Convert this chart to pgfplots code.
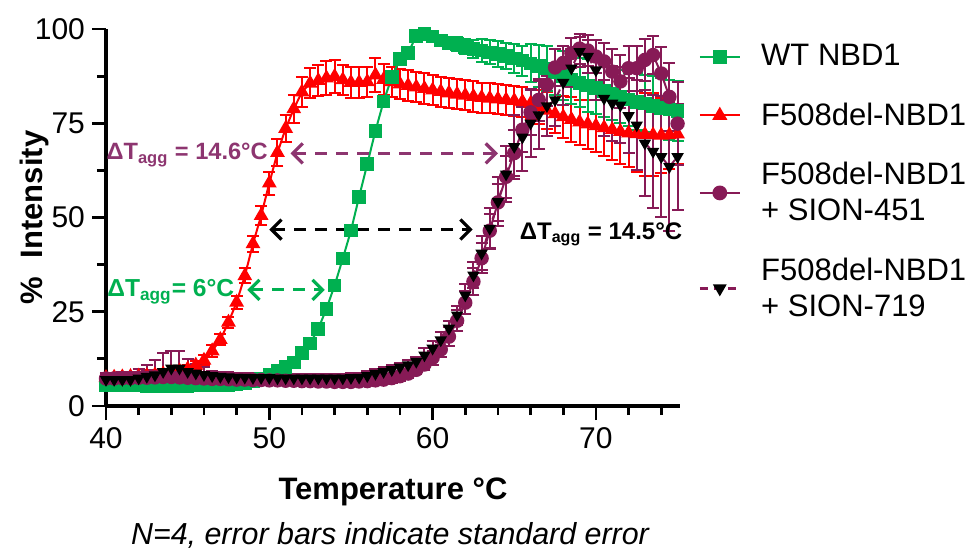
\documentclass[border=0pt]{standalone}
\usepackage{fontspec}
\setmainfont{Liberation Sans}
\usepackage{pgfplots}
\usepackage{pgfplotstable}
\pgfplotsset{compat=1.18}
\usetikzlibrary{arrows.meta}
\definecolor{wtgreen}{HTML}{00B050}
\definecolor{fdred}{HTML}{FF0000}
\definecolor{sionpurple}{HTML}{871A56}
\definecolor{notepurple}{HTML}{8D3570}

% T, WT NBD1, F508del-NBD1, +SION-451, +SION-719 (value and standard error)
\pgfplotstableread{
T    wt    wte  fd    fde  sa    sae  sb    sbe
40   5.6   0.6  7.5   1.0  7.3   1.5  7.0   1.5
40.5 5.5   0.6  7.6   1.0  7.3   1.5  7.0   1.5
41   5.5   0.6  7.7   1.0  7.4   1.5  7.0   1.5
41.5 5.4   0.6  7.8   1.0  7.4   1.5  7.0   1.5
42   5.4   0.6  7.9   1.0  7.5   1.5  7.4   2.5
42.5 5.3   0.6  8.0   1.0  7.5   2.0  7.8   3.0
43   5.3   0.6  8.2   1.0  7.6   2.0  8.2   4.0
43.5 5.3   0.6  8.5   1.0  7.7   2.0  9.1   5.0
44   5.3   0.6  8.8   1.0  7.7   2.0  10.0  4.5
44.5 5.3   0.6  9.3   1.2  7.6   2.0  10.0  4.5
45   5.3   0.6  9.8   1.2  7.5   2.0  9.1   3.5
45.5 5.4   0.6  10.8  1.2  7.4   1.5  8.7   2.5
46   5.4   0.6  12.1  1.3  7.3   1.5  8.3   2.0
46.5 5.5   0.6  14.6  1.5  7.2   1.0  8.0   1.2
47   5.5   0.6  17.6  1.5  7.2   1.0  7.8   1.2
47.5 5.6   0.6  22.2  1.5  7.1   1.0  7.7   1.2
48   5.8   0.6  27.5  1.8  7.0   1.0  7.6   1.2
48.5 6.1   0.6  34.5  2.0  7.0   1.0  7.6   1.2
49   6.6   0.6  43.0  2.2  6.9   1.0  7.5   1.2
49.5 7.3   0.6  50.5  2.5  6.9   1.0  7.5   1.2
50   8.3   0.8  59.1  3.0  6.8   1.0  7.5   1.2
50.5 9.4   0.8  67.2  3.5  6.8   1.0  7.4   1.2
51   10.3  0.8  73.6  3.5  6.7   1.0  7.4   1.2
51.5 11.5  0.8  78.8  3.8  6.7   1.0  7.4   1.2
52   14.0  0.8  83.3  4.0  6.6   1.0  7.4   1.2
52.5 16.6  1.0  85.6  4.0  6.6   1.0  7.4   1.2
53   20.5  1.0  86.3  4.2  6.5   1.0  7.4   1.2
53.5 25.8  1.0  87.0  4.5  6.5   1.0  7.4   1.2
54   32.0  1.0  87.4  4.5  6.4   1.0  7.4   1.2
54.5 39.1  1.0  86.5  4.0  6.4   1.0  7.4   1.2
55   46.5  1.0  85.8  4.0  6.4   1.0  7.5   1.2
55.5 55.5  1.2  85.8  4.0  6.5   1.0  7.6   1.2
56   64.2  1.2  86.0  4.0  6.6   1.0  8.0   1.2
56.5 73.0  1.2  87.8  4.5  6.8   1.0  8.6   1.2
57   80.8  1.2  86.6  4.0  7.0   1.0  9.1   1.2
57.5 87.2  1.2  86.0  4.0  7.4   1.2  9.6   1.2
58   92.0  1.2  85.4  4.0  7.9   1.2  10.3  1.2
58.5 93.6  1.0  85.0  4.0  8.6   1.2  10.9  1.2
59   98.2  1.0  84.6  4.0  9.6   1.2  11.8  1.2
59.5 98.6  1.0  84.2  4.0  11.0  1.5  13.5  2.0
60   98.0  1.0  83.8  4.0  12.8  1.8  15.3  2.0
60.5 97.0  1.2  83.4  4.0  15.0  2.0  17.5  2.0
61   96.3  1.5  83.0  4.0  18.4  2.5  20.6  2.0
61.5 96.0  1.8  82.7  4.0  22.6  2.8  24.1  2.5
62   95.3  2.0  82.4  4.0  27.4  3.0  29.4  3.0
62.5 94.7  2.5  82.1  4.0  33.0  3.5  34.7  3.5
63   94.3  3.0  81.8  4.0  39.2  4.0  40.5  4.5
63.5 93.8  3.2  81.6  4.0  46.5  4.5  47.1  5.5
64   93.3  3.5  81.4  4.0  54.0  5.0  54.2  6.5
64.5 92.8  3.5  81.2  4.0  60.8  5.5  61.5  7.5
65   92.2  3.8  81.0  4.0  67.1  6.0  68.8  8.5
65.5 91.6  4.0  80.7  4.0  73.3  6.0  71.3  9.0
66   90.9  5.0  80.2  4.0  77.9  6.0  75.0  9.0
66.5 90.2  5.5  79.4  4.5  81.2  5.5  77.2  9.0
67   89.5  6.0  78.4  5.0  85.2  5.5  79.6  8.0
67.5 88.6  6.0  77.5  5.0  89.8  5.0  81.2  7.0
68   87.6  6.5  76.7  5.5  91.0  4.5  85.8  6.0
68.5 86.6  6.5  76.0  6.0  93.6  4.0  89.6  5.0
69   85.7  6.5  75.3  6.0  94.8  4.0  94.0  4.0
69.5 85.0  7.0  74.8  6.5  94.3  4.0  92.7  4.5
70   84.4  7.0  74.3  7.0  92.7  4.5  89.1  8.0
70.5 83.6  7.0  73.8  7.5  91.4  5.0  81.6  10.0
71   82.8  7.0  73.3  8.0  88.7  6.0  80.3  10.0
71.5 82.0  7.0  72.8  8.5  86.1  7.0  79.8  10.0
72   81.3  7.0  72.4  9.0  89.6  6.0  77.0  10.0
72.5 80.7  7.5  72.2  10.0 89.6  6.0  74.5  12.0
73   80.2  7.5  72.0  11.0 91.8  5.5  69.7  14.0
73.5 79.6  8.0  71.9  11.0 93.1  5.0  67.5  15.0
74   79.1  8.0  71.8  10.0 88.2  7.0  66.1  16.0
74.5 78.6  8.0  71.9  9.0  82.0  9.0  63.5  17.0
75   78.2  8.0  72.1  8.0  74.9  11.0 66.1  14.0
}\data

\begin{document}
\begin{tikzpicture}
\useasboundingbox (-53pt,-73pt) rectangle (433pt,203pt);
\begin{axis}[
    scale only axis,
    width=287pt, height=188.5pt,
    at={(0,0)}, anchor=south west,
    xmin=40, xmax=75.15, ymin=0, ymax=100,
    axis x line*=bottom, axis y line*=left,
    axis line style={line width=1.6pt, black},
    xtick={40,50,60,70}, minor xtick={42,44,46,48,52,54,56,58,62,64,66,68,72,74},
    ytick={0,25,50,75,100}, minor ytick={12.5,37.5,62.5,87.5},
    tick align=outside,
    major tick length=7pt, minor tick length=4.5pt,
    every tick/.style={line width=1.4pt, black},
    ticklabel style={font=\fontsize{15}{18}\selectfont},
    /pgf/number format/assume math mode=true,
    xlabel={\bfseries Temperature °C},
    ylabel={\bfseries \%\hspace{0.6em}Intensity},
    label style={font=\fontsize{15.5}{18}\selectfont},
    xlabel style={at={(axis description cs:0.5,-0.228)}, anchor=center},
    ylabel style={at={(axis description cs:-0.124,0.5)}, anchor=center},
    clip=false,
    legend cell align=left,
    legend style={at={(1,1)}, anchor=north west, xshift=6pt, yshift=-3.5pt,
        draw=none, fill=none, row sep=13pt, column sep=8pt,
        font=\fontsize{15.5}{18}\selectfont,
        cells={anchor=west, align=left}},
    legend image code/.code={
        \draw[mark repeat=2, mark phase=2] plot coordinates {(0pt,0pt) (10pt,0pt) (20pt,0pt)};},
]
% red first so that the green curve sits on it where they cross
\addplot[fdred, line width=1pt, mark=triangle*, mark size=3.3pt, forget plot,
    error bars/.cd, y dir=both, y explicit,
    error bar style={line width=1pt, fdred},
    error mark options={fdred, rotate=90, mark size=3pt, line width=1pt}]
    table[x=T, y=fd, y error=fde] {\data};
\addplot[wtgreen, line width=1pt, mark=square*, mark size=2.9pt, forget plot,
    error bars/.cd, y dir=both, y explicit,
    error bar style={line width=1pt, wtgreen},
    error mark options={wtgreen, rotate=90, mark size=3pt, line width=1pt}]
    table[x=T, y=wt, y error=wte] {\data};
\addplot[sionpurple, line width=1pt, mark=*, mark size=3.1pt, forget plot,
    error bars/.cd, y dir=both, y explicit,
    error bar style={line width=1pt, sionpurple},
    error mark options={sionpurple, rotate=90, mark size=3pt, line width=1pt}]
    table[x=T, y=sa, y error=sae] {\data};
\addplot[sionpurple, line width=1pt, dashed, mark=triangle*, mark size=2.6pt,
    mark options={black, fill=black, solid, rotate=180}, forget plot,
    error bars/.cd, y dir=both, y explicit,
    error bar style={line width=1pt, sionpurple, solid},
    error mark options={sionpurple, rotate=90, mark size=3pt, line width=1pt, solid}]
    table[x=T, y=sb, y error=sbe] {\data};

\addlegendimage{wtgreen, line width=1pt, mark=square*, mark size=3pt}
\addlegendentry{WT NBD1}
\addlegendimage{fdred, line width=1pt, mark=triangle*, mark size=3.4pt}
\addlegendentry{F508del-NBD1}
\addlegendimage{sionpurple, line width=1pt, mark=*, mark size=3.2pt}
\addlegendentry{F508del-NBD1\\+ SION-451}
\addlegendimage{sionpurple, line width=1.4pt, dash pattern=on 4pt off 3pt, mark=triangle*, mark size=2.6pt,
    mark options={black, fill=black, solid, rotate=180}}
\addlegendentry{F508del-NBD1\\+ SION-719}

% melting-shift annotations
\draw[notepurple, line width=1.6pt, dash pattern=on 6pt off 4.5pt,
    {Straight Barb[length=5pt, width=10pt, line width=1.6pt]}-{Straight Barb[length=5pt, width=10pt, line width=1.6pt]}]
    (axis cs:51.3,67) -- (axis cs:64.0,67);
\node[anchor=east, notepurple, font=\bfseries\fontsize{11.8}{14}\selectfont, inner sep=1pt]
    at (axis cs:50.05,66.5) {ΔT\textsubscript{agg} = 14.6°C};
\draw[black, line width=1.6pt, dash pattern=on 6pt off 4.5pt,
    {Straight Barb[length=5pt, width=10pt, line width=1.6pt]}-{Straight Barb[length=5pt, width=10pt, line width=1.6pt]}]
    (axis cs:50.0,46.8) -- (axis cs:62.45,46.8);
\node[anchor=west, black, font=\bfseries\fontsize{12}{14}\selectfont, inner sep=1pt]
    at (axis cs:65.2,45.5) {ΔT\textsubscript{agg} = 14.5°C};
\draw[wtgreen, line width=1.6pt, dash pattern=on 6pt off 4.5pt,
    {Straight Barb[length=5pt, width=10pt, line width=1.6pt]}-{Straight Barb[length=5pt, width=10pt, line width=1.6pt]}]
    (axis cs:48.65,30.8) -- (axis cs:53.4,30.8);
\node[anchor=east, wtgreen, font=\bfseries\fontsize{12.3}{14}\selectfont, inner sep=1pt]
    at (axis cs:48.0,30.3) {ΔT\textsubscript{agg}= 6°C};
\end{axis}
\node[font=\itshape\fontsize{15.2}{18}\selectfont] at (142pt,-64.5pt)
    {N=4, error bars indicate standard error};
\end{tikzpicture}
\end{document}
